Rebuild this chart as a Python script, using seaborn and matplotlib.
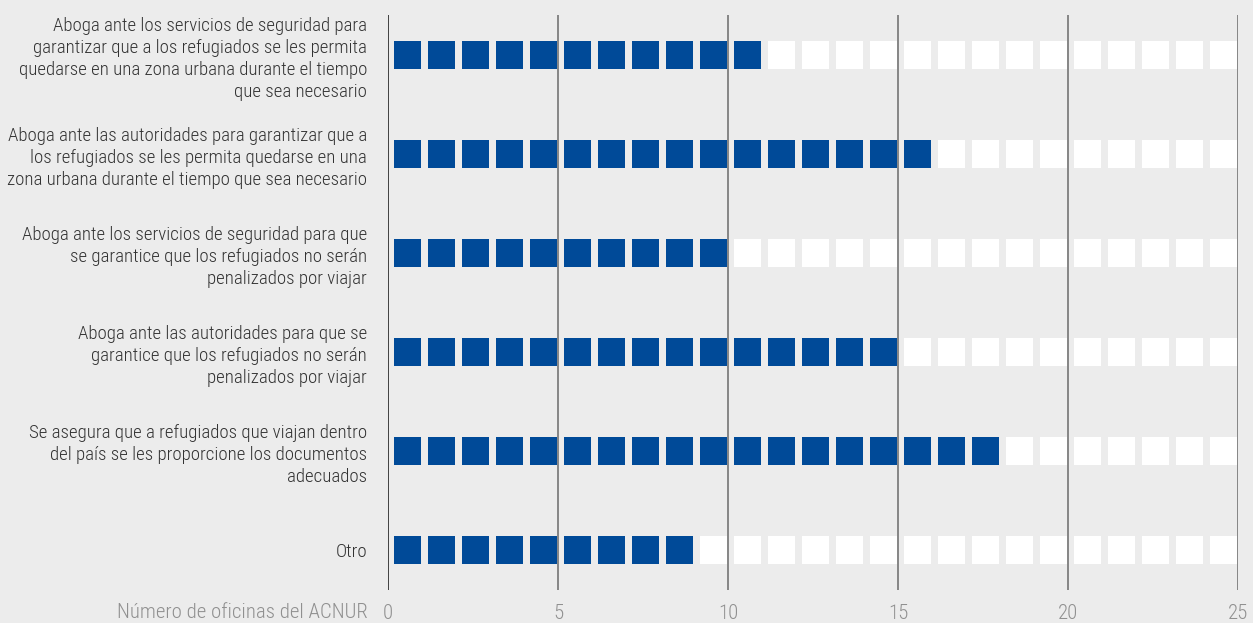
import numpy as np
import pandas as pd
import matplotlib
matplotlib.use("Agg")
import matplotlib.pyplot as plt
import seaborn as sns

categories = [
    "Aboga ante los servicios de seguridad para\ngarantizar que a los refugiados se les permita\nquedarse en una zona urbana durante el tiempo\nque sea necesario",
    "Aboga ante las autoridades para garantizar que a\nlos refugiados se les permita quedarse en una\nzona urbana durante el tiempo que sea necesario",
    "Aboga ante los servicios de seguridad para que\nse garantice que los refugiados no serán\npenalizados por viajar",
    "Aboga ante las autoridades para que se\ngarantice que los refugiados no serán\npenalizados por viajar",
    "Se asegura que a refugiados que viajan dentro\ndel país se les proporcione los documentos\nadecuados",
    "Otro",
]
values = [11, 16, 10, 15, 18, 9]
max_value = 25
x_ticks = [0, 5, 10, 15, 20, 25]
x_label = "Número de oficinas del ACNUR"

sns.set_theme(style="white")
plt.rcParams["font.family"] = ["Roboto Condensed", "DejaVu Sans"]
plt.rcParams["font.weight"] = 300

rows = []
for r, (cat, v) in enumerate(zip(categories, values)):
    for i in range(max_value):
        rows.append({"row": r, "pos": i + 0.575, "state": "filled" if i < v else "empty"})
df = pd.DataFrame(rows)

bg = "#ececec"
fig = plt.figure(figsize=(12.53, 6.23), dpi=100, facecolor=bg)
ax = fig.add_axes([388 / 1253, 33 / 623, 850 / 1253, 575 / 623])
ax.set_facecolor(bg)

for t in x_ticks:
    ax.axvline(t, color="#333333" if t == 0 else "#6a6a6a", lw=1.3 if t == 0 else 1.1, zorder=1)

sns.scatterplot(data=df, x="pos", y="row", hue="state",
                palette={"filled": "#004a98", "empty": "#ffffff"},
                marker="s", s=19.5 ** 2, linewidth=0, legend=False, ax=ax, zorder=3)

ax.set_xlim(0, max_value)
ax.set_ylim(len(categories) - 1 + 0.404, -0.404)
for s in ax.spines.values():
    s.set_visible(False)

ax.set_xticks(x_ticks)
ax.set_xticklabels([str(t) for t in x_ticks], fontsize=15, color="#909090", fontweight=300)
ax.tick_params(axis="x", length=0, pad=10)
ax.set_yticks(range(len(categories)))
ax.set_yticklabels(categories, fontsize=13.6, color="#333333", linespacing=1.27, fontweight=300)
ax.tick_params(axis="y", length=0, pad=15)
ax.set_xlabel("")
ax.set_ylabel("")
fig.text(368 / 1253, 1 - 613 / 623, x_label, ha="right", va="center",
         fontsize=15, color="#909090", fontweight=300)

fig.savefig("out.png", dpi=100, facecolor=bg)
